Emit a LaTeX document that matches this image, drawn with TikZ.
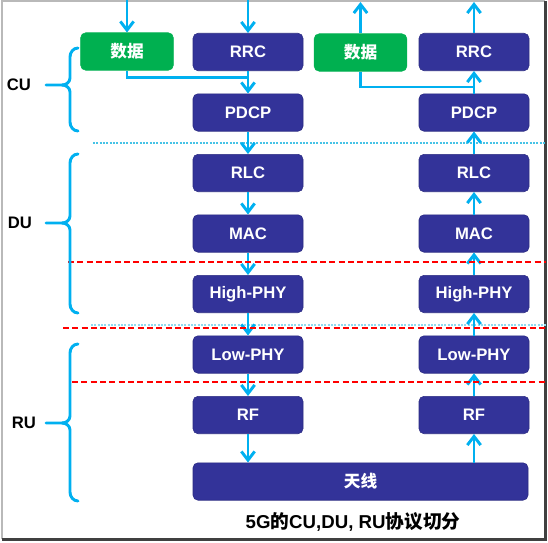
\documentclass[tikz,border=0pt]{standalone}
\usepackage{fontspec}
\setmainfont{Liberation Sans}
\newfontfamily\cjk{Noto Sans CJK SC}
\usepackage{xcolor}
\usepackage{tikz}
\usetikzlibrary{arrows.meta}
\definecolor{navy}{RGB}{51,51,153}
\definecolor{datagreen}{RGB}{0,176,80}
\definecolor{flowblue}{RGB}{0,176,240}
\definecolor{cutred}{RGB}{255,0,0}
\definecolor{dotcyan}{RGB}{70,195,230}
% curly brace of one unit: top y, tip y, bottom y
\newcommand{\unitbrace}[3]{%
	\draw[brace] (78,#1) to[out=180,in=90] (70,#1+9) -- (70,#2-7)
		to[out=-90,in=0] (62,#2) -- (46,#2);
	\draw[brace] (62,#2) to[out=0,in=90] (70,#2+7) -- (70,#3-9)
		to[out=-90,in=180] (78,#3);}

\begin{document}
\begin{tikzpicture}[x=0.75pt, y=-0.75pt,
		font=\fontsize{12.5}{15}\selectfont\bfseries,
		layer/.style={fill=navy, draw=navy!85!black, rounded corners=3.75pt,
			text=white, inner sep=0pt, minimum width=82.5pt, minimum height=28.1pt},
		databox/.style={layer, fill=datagreen, draw=datagreen, minimum width=69.5pt},
		flow/.style={flowblue, line width=2.2pt,
			-{Straight Barb[length=6.5pt,width=10pt]}},
		link/.style={flowblue, line width=2.2pt},
		brace/.style={flowblue, line width=2.2pt, line cap=round},
		cut/.style={cutred, line width=1.9pt, dash pattern=on 4.5pt off 2.5pt},
		unit/.style={text=black}]
		\useasboundingbox (0,0) rectangle (548,542);
		% frame with shadow
		\draw[gray!55, line width=1pt] (2,539) -- (2,1) -- (545,1);
		\draw[black!75, line width=1.6pt] (2,539.5) -- (545.5,539.5) -- (545.5,1);
		% split lines
		\draw[dotcyan, line width=1pt, dash pattern=on 1.5pt off 1pt] (93,143) -- (546,143);
		\draw[dotcyan!60, line width=1pt, dash pattern=on 1.5pt off 1pt] (91,325) -- (546,325);
		% protocol layers, down (L) and up (R)
		\foreach \n/\t/\y in {rrc/RRC/52, pdcp/PDCP/112.5, rlc/RLC/173, mac/MAC/233.5,
			hphy/High-PHY/294, lphy/Low-PHY/354.5, rf/RF/415}
			{\node[layer] (L\n) at (248,\y) {\t};
				\node[layer] (R\n) at (474,\y) {\t};}
		\node[databox] (dataL) at (127,51.5) {\cjk 数据};
		\node[databox] (dataR) at (360.5,52.5) {\cjk 数据};
		\node[layer, minimum width=251.25pt] (ant) at (360.5,481.5) {\cjk 天线};
		% flows
		\foreach \a/\b in {rrc/pdcp, pdcp/rlc, rlc/mac, mac/hphy, hphy/lphy, lphy/rf}
			{\draw[flow] (L\a) -- (L\b);
				\draw[flow] (R\b) -- (R\a);}
		\draw[flow] (Lrf) -- (Lrf |- ant.north);
		\draw[flow] (Rrf |- ant.north) -- (Rrf);
		\coordinate (top) at (0,0);
		\coordinate (jL) at (248,77.5);
		\coordinate (jR) at (474,87);
		\draw[flow] (dataL |- top) -- (dataL);
		\draw[flow] (Lrrc |- top) -- (Lrrc);
		\draw[flow] (dataR) -- ([yshift=-1.5pt]dataR |- top);
		\draw[flow] (Rrrc) -- ([yshift=-1.5pt]Rrrc |- top);
		\draw[link] (dataL.south) |- (jL);
		\draw[link] (dataR.south) |- (jR);
		% cuts
		\draw[cut] (68,262) -- (546,262);
		\draw[cut] (63,328) -- (546,328);
		\draw[cut] (72,382) -- (546,382);
		% units
		\unitbrace{48}{85}{131}
		\unitbrace{154}{223}{313}
		\unitbrace{344}{423}{501}
		\node[unit] (cu) at (19,85) {CU};
		\node[unit] (du) at (20,223) {DU};
		\node[unit] (ru) at (24,423) {RU};
		\node[font=\fontsize{14}{16}\selectfont\bfseries] (title) at (353,522)
			{5G{\cjk 的}CU,DU, RU{\cjk 协议切分}};
	\end{tikzpicture}
\end{document}
